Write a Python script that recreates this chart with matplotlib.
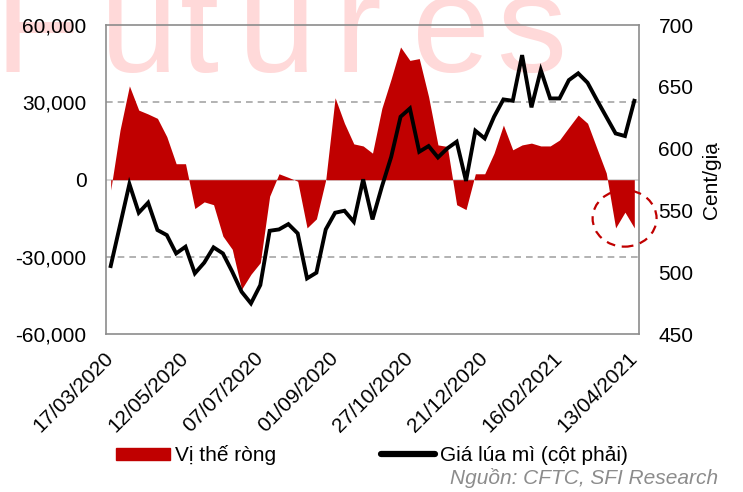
import matplotlib.pyplot as plt
import matplotlib.patches as mpatches
import matplotlib.transforms as mtransforms
from matplotlib.lines import Line2D
import numpy as np

plt.rcParams['font.family'] = ['Liberation Sans', 'DejaVu Sans']

# weekly CFTC net position (contracts) and wheat price (cents/bushel)
net_pos = [-4000, 19300, 36400, 27000, 25500, 23800, 16700, 6200, 6200, -11200,
           -8600, -9700, -21900, -27000, -42500, -36700, -32200, -6400, 2300, 900,
           -600, -18700, -15200, 0, 31800, 21900, 13900, 13100, 10300, 27700,
           39200, 51500, 46300, 47000, 32200, 13500, 12900, -9700, -11600, 2300,
           2300, 10300, 21200, 11600, 13500, 14200, 13100, 13100, 15400, 20300,
           25100, 21900, 12200, 2600, -18700, -12600, -18700]
price = [505.2, 538.3, 571.5, 548.3, 556.4, 534.3, 530.2, 515.4, 520.8, 499.3,
         507.9, 520.3, 515.4, 500.6, 484.4, 475.0, 489.8, 533.7, 534.8, 539.1,
         531.6, 495.2, 499.8, 534.8, 548.3, 549.9, 541.0, 575.3, 542.9, 569.3,
         593.5, 625.9, 632.6, 597.6, 602.2, 593.0, 600.3, 605.7, 574.0, 614.6,
         608.4, 625.9, 639.9, 638.8, 675.7, 633.5, 663.6, 640.7, 640.7, 655.5,
         661.0, 653.4, 639.4, 625.9, 612.4, 610.3, 638.8]
tick_labels = ['17/03/2020', '12/05/2020', '07/07/2020', '01/09/2020',
               '27/10/2020', '21/12/2020', '16/02/2021', '13/04/2021']

red = '#c00000'
fs = 15
x = np.arange(len(net_pos))

fig = plt.figure(figsize=(7.43, 4.92), dpi=100)

# watermark, spaced out letter by letter
wm_left = [-5, 100, 180, 238, 334, 412, 496]
for ch, px in zip('Futures', wm_left):
    fig.text(px / 743, 1 - 72 / 492, ch, fontsize=101, color='#ffd9d9',
             va='baseline', ha='left', zorder=-1)

ax = fig.add_axes([0.1427, 0.3205, 0.7173, 0.6285])
ax.patch.set_alpha(0)
ax.fill_between(x, 0, net_pos, color=red, linewidth=0, zorder=2)
ax.set_ylim(-60000, 60000)
ax.set_yticks([-60000, -30000, 0, 30000, 60000])
ax.set_yticklabels(['-60,000', '-30,000', '0', '30,000', '60,000'], fontsize=fs)
ax.axhline(30000, color='#a6a6a6', ls=(0, (4, 3)), lw=1.2, zorder=1)
ax.axhline(-30000, color='#a6a6a6', ls=(0, (4, 3)), lw=1.2, zorder=1)
ax.axhline(0, color='#d0d0d0', lw=1.2, zorder=1)
ax.set_xlim(-0.5, len(net_pos) - 0.5)
ax.set_xticks(x[::8])
ax.set_xticklabels(tick_labels, rotation=45, ha='right', va='center',
                   rotation_mode='anchor', fontsize=fs)
shift = mtransforms.ScaledTranslation(3 / 100, 0, fig.dpi_scale_trans)
for lab in ax.get_xticklabels():
    lab.set_transform(lab.get_transform() + shift)
ax.tick_params(axis='y', length=0, pad=14)
ax.tick_params(axis='x', length=0, pad=15)
for s in ax.spines.values():
    s.set_color('#8c8c8c')
    s.set_linewidth(1.2)

ax2 = ax.twinx()
ax2.plot(x, price, color='black', lw=2.8, zorder=3, solid_joinstyle='miter')
ax2.set_ylim(450, 700)
ax2.set_yticks([450, 500, 550, 600, 650, 700])
ax2.tick_params(length=0, labelsize=fs, pad=14)
ax2.set_ylabel('Cent/giạ', fontsize=fs, labelpad=6)
for s in ax2.spines.values():
    s.set_visible(False)

# dashed circle highlighting latest weeks
circ = mpatches.Ellipse((0.973, 0.375), 0.12, 0.183, transform=ax.transAxes,
                        fill=False, ec=red, ls=(0, (4, 3)), lw=1.6, zorder=4,
                        clip_on=False)
ax.add_patch(circ)

handles = [mpatches.Patch(color=red, label='Vị thế ròng'),
           Line2D([0], [0], color='black', lw=4.5, solid_capstyle='round',
                  label='Giá lúa mì (cột phải)')]
fig.legend(handles=handles, loc='center left', bbox_to_anchor=(0.131, 0.075),
           ncol=2, frameon=False, fontsize=fs, handlelength=2.6,
           handleheight=0.5, handletextpad=0.25, columnspacing=5.0)

fig.text(0.966, 0.0285, 'Nguồn: CFTC, SFI Research', ha='right', va='center',
         fontsize=fs, color='#8c8c8c', style='italic')

fig.savefig('out.png', dpi=100)
